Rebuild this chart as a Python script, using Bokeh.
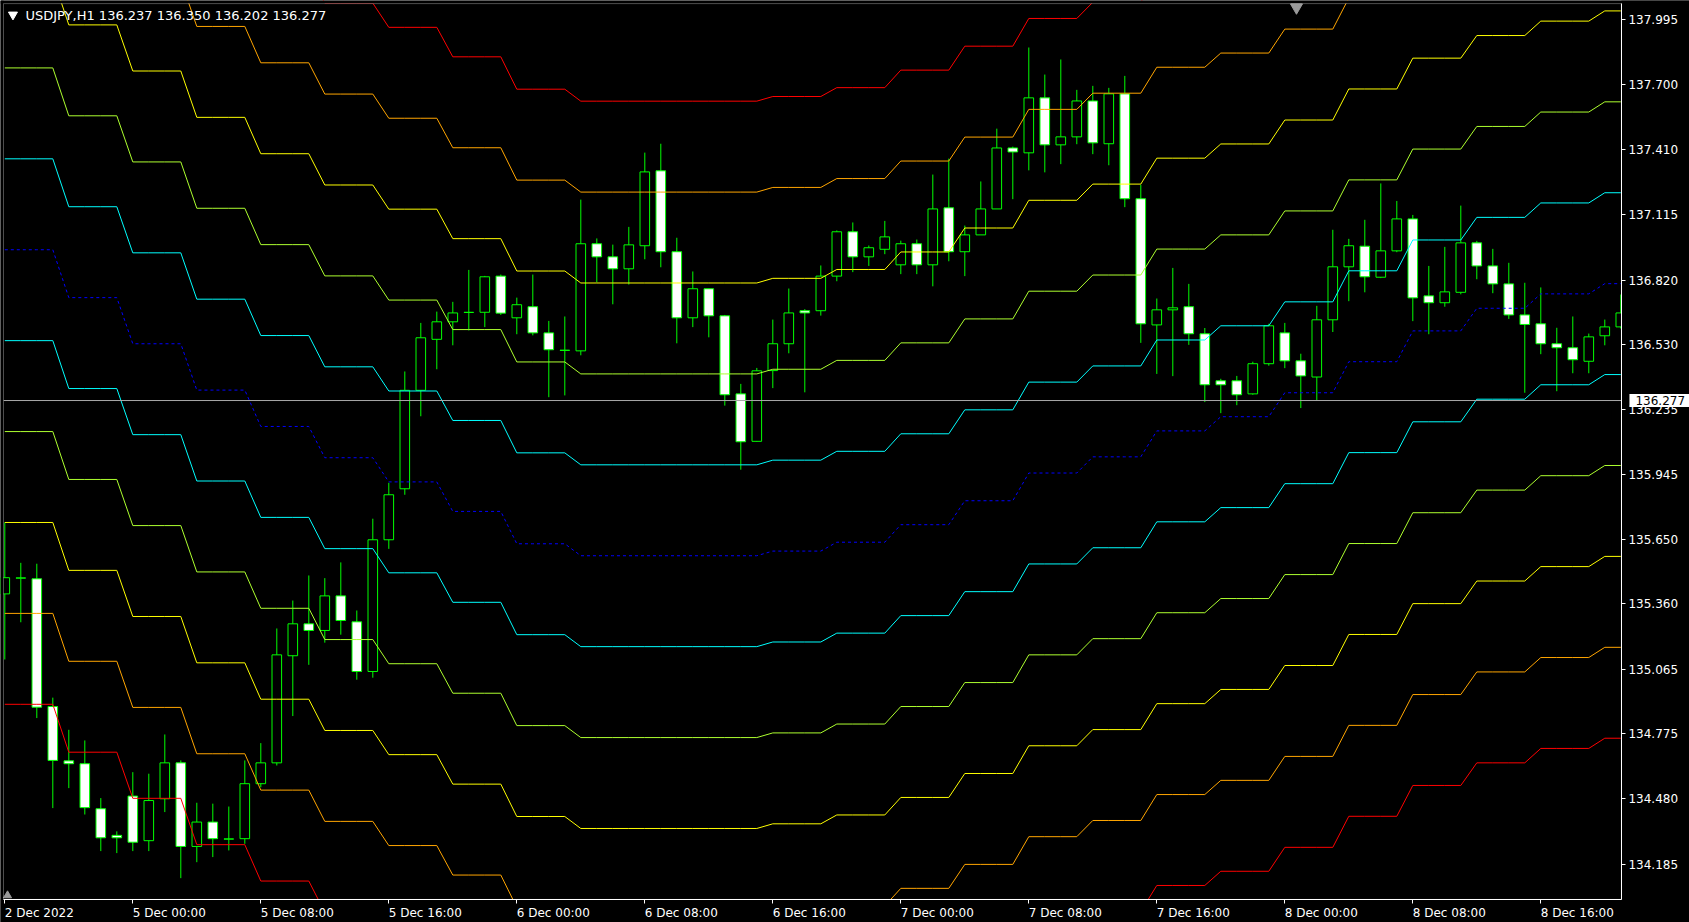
import numpy as np
from bokeh.plotting import figure
from bokeh.models import (ColumnDataSource, FixedTicker, Label, Range1d, BoxAnnotation,
                          NumeralTickFormatter)
from bokeh.embed import file_html
from bokeh.resources import INLINE

# ---------------- data (USDJPY H1, bars from 2 Dec 2022 16:00) ----------------
opens = [135.405, 135.476, 135.473, 134.897, 134.652, 134.639, 134.436, 134.316, 134.493, 134.292,
         134.481, 134.643, 134.266, 134.376, 134.299, 134.301, 134.549, 134.643, 135.126, 135.270,
         135.240, 135.396, 135.279, 135.055, 135.649, 135.879, 136.323, 136.553, 136.632, 136.674,
         136.675, 136.838, 136.650, 136.700, 136.582, 136.503, 136.501, 136.984, 136.925, 136.871,
         136.975, 137.313, 136.948, 136.650, 136.781, 136.659, 136.307, 136.093, 136.412, 136.533,
         136.682, 136.682, 136.838, 137.038, 136.925, 136.959, 136.889, 136.984, 136.889, 137.146,
         136.948, 137.024, 137.141, 137.416, 137.394, 137.642, 137.430, 137.466, 137.628, 137.435,
         137.660, 137.187, 136.618, 136.686, 136.700, 136.578, 136.366, 136.366, 136.307, 136.443,
         136.582, 136.456, 136.383, 136.641, 136.880, 136.973, 136.833, 136.952, 137.096, 136.749,
         136.718, 136.765, 136.988, 136.884, 136.803, 136.663, 136.623, 136.533, 136.515, 136.454,
         136.569, 136.609]
highs = [135.727, 135.545, 135.541, 134.937, 134.792, 134.744, 134.484, 134.334, 134.601, 134.594,
         134.771, 134.654, 134.463, 134.459, 134.446, 134.654, 134.732, 135.249, 135.375, 135.488,
         135.476, 135.547, 135.330, 135.744, 135.906, 136.408, 136.627, 136.678, 136.722, 136.866,
         136.839, 136.845, 136.741, 136.845, 136.636, 136.656, 137.183, 137.008, 136.980, 137.060,
         137.395, 137.435, 137.011, 136.859, 136.781, 136.663, 136.352, 136.424, 136.642, 136.782,
         136.689, 136.886, 137.044, 137.080, 136.976, 137.087, 136.998, 137.003, 137.296, 137.368,
         137.066, 137.265, 137.503, 137.422, 137.869, 137.747, 137.815, 137.678, 137.696, 137.687,
         137.741, 137.250, 136.737, 136.875, 136.803, 136.604, 136.375, 136.388, 136.452, 136.623,
         136.627, 136.488, 136.704, 137.047, 137.006, 137.092, 137.256, 137.177, 137.114, 136.884,
         136.970, 137.156, 136.997, 136.961, 136.898, 136.808, 136.787, 136.605, 136.656, 136.579,
         136.642, 136.755]
lows = [135.109, 135.277, 134.845, 134.439, 134.529, 134.410, 134.245, 134.236, 134.245, 134.245,
        134.421, 134.123, 134.195, 134.218, 134.248, 134.278, 134.533, 134.631, 134.854, 135.085,
        135.185, 135.221, 135.018, 135.027, 135.608, 135.852, 136.206, 136.418, 136.526, 136.593,
        136.608, 136.663, 136.576, 136.571, 136.292, 136.300, 136.481, 136.810, 136.711, 136.800,
        136.914, 136.878, 136.535, 136.608, 136.562, 136.254, 135.965, 136.091, 136.333, 136.490,
        136.314, 136.660, 136.815, 136.856, 136.884, 136.937, 136.847, 136.847, 136.792, 136.905,
        136.838, 137.024, 137.141, 137.185, 137.315, 137.306, 137.343, 137.433, 137.388, 137.338,
        137.149, 136.537, 136.397, 136.387, 136.528, 136.270, 136.220, 136.256, 136.303, 136.434,
        136.423, 136.243, 136.275, 136.586, 136.725, 136.765, 136.829, 136.946, 136.635, 136.576,
        136.700, 136.756, 136.824, 136.761, 136.645, 136.312, 136.486, 136.319, 136.400, 136.400,
        136.526, 136.602]
closes = [135.478, 135.477, 134.894, 134.654, 134.639, 134.441, 134.305, 134.305, 134.285, 134.473,
          134.643, 134.266, 134.376, 134.301, 134.300, 134.549, 134.643, 135.130, 135.270, 135.240,
          135.396, 135.285, 135.055, 135.649, 135.852, 136.323, 136.560, 136.632, 136.672, 136.675,
          136.835, 136.671, 136.709, 136.582, 136.506, 136.504, 136.984, 136.925, 136.871, 136.979,
          137.308, 136.948, 136.650, 136.781, 136.659, 136.303, 136.091, 136.411, 136.533, 136.672,
          136.672, 136.838, 137.038, 136.925, 136.966, 137.015, 136.984, 136.889, 137.141, 136.948,
          137.024, 137.141, 137.416, 137.398, 137.642, 137.430, 137.466, 137.628, 137.439, 137.660,
          137.187, 136.623, 136.686, 136.695, 136.578, 136.348, 136.348, 136.303, 136.443, 136.614,
          136.456, 136.388, 136.641, 136.880, 136.975, 136.835, 136.952, 137.096, 136.740, 136.718,
          136.767, 136.988, 136.884, 136.803, 136.663, 136.620, 136.533, 136.515, 136.461, 136.564,
          136.609, 136.672]

# middle level of the band indicator, one value per 4-hour block
block_centers = [136.957, 136.741, 136.533, 136.324, 136.160, 136.019, 135.910, 135.777,
                 135.631, 135.577, 135.577, 135.577, 135.598, 135.638, 135.717, 135.825,
                 135.950, 136.023, 136.140, 136.204, 136.312, 136.452, 136.591, 136.693,
                 136.758, 136.804]
band_step = 0.410
band_levels = [5, 4, 3, 2, 1, 0, -1, -2, -3, -4, -5]
band_colors = ["#FF0000", "#FFA500", "#FFFF00", "#ADFF2F", "#00FFFF", "#0000FF",
               "#00FFFF", "#ADFF2F", "#FFFF00", "#FFA500", "#FF0000"]

y_tick_values = [134.185, 134.480, 134.775, 135.065, 135.360, 135.650, 135.945,
                 136.235, 136.530, 136.820, 137.115, 137.410, 137.700, 137.995]
y_tick_labels = ["134.185", "134.480", "134.775", "135.065", "135.360", "135.650", "135.945",
                 "136.235", "136.530", "136.820", "137.115", "137.410", "137.700", "137.995"]
x_tick_labels = ["2 Dec 2022", "5 Dec 00:00", "5 Dec 08:00", "5 Dec 16:00", "6 Dec 00:00",
                 "6 Dec 08:00", "6 Dec 16:00", "7 Dec 00:00", "7 Dec 08:00", "7 Dec 16:00",
                 "8 Dec 00:00", "8 Dec 08:00", "8 Dec 16:00"]
bars_per_label = 8
symbol_title = "USDJPY,H1  136.237 136.350 136.202 136.277"
current_price = 136.277
current_price_text = "136.277"

# ---------------- layout ----------------
FONT = "DejaVu Sans"
X_LO, X_HI = -0.269, 105.294          # whole canvas, in bar units
Y_LO, Y_HI = 133.923, 138.081         # whole canvas, in price units
VX0, VX1 = -0.081, 101.04             # chart window
VY0, VY1 = 134.027, 138.067

n = len(opens)
xs = np.arange(n)

p = figure(width=1689, height=922, output_backend="svg", toolbar_location=None,
           x_range=Range1d(X_LO, X_HI), y_range=Range1d(Y_LO, Y_HI),
           y_axis_location="right", background_fill_color="black",
           border_fill_color="black", outline_line_color=None,
           min_border_left=0, min_border_top=0, min_border_right=0, min_border_bottom=0)
p.grid.visible = False

# candles
o = np.array(opens); c = np.array(closes)
src = ColumnDataSource(dict(
    x=xs, h=highs, l=lows,
    top=np.maximum(o, c), bottom=np.minimum(o, c),
    fill=["black" if cc > oo else "white" for oo, cc in zip(o, c)]))
p.segment(x0="x", y0="l", x1="x", y1="h", source=src, line_color="#00FF00", line_width=1)
p.vbar(x="x", width=0.6, top="top", bottom="bottom", source=src,
       fill_color="fill", line_color="#00FF00", line_width=1)

# band lines
center = np.array(block_centers)[xs // 4]
for k, col in zip(band_levels, band_colors):
    p.line(xs, center + k * band_step, line_color=col, line_width=1,
           line_dash="3 3" if k == 0 else "solid")

# current price line
p.line([VX0, VX1], [current_price, current_price], line_color="#A8A8A8", line_width=1)

# mask everything outside the chart window (axis areas)
p.quad(left=[VX1, X_LO, X_LO, X_LO], right=[X_HI, X_HI, VX0, X_HI],
       bottom=[Y_LO, Y_LO, Y_LO, VY1], top=[Y_HI, VY0, Y_HI, Y_HI],
       fill_color="black", line_color=None)

# window border
p.add_layout(BoxAnnotation(left=VX0, right=VX1, bottom=VY0, top=VY1,
                           fill_alpha=0, line_color="white", line_width=1))

# price axis
yax = p.yaxis[0]
yax.fixed_location = VX1
yax.bounds = (VY0, VY1)
yax.ticker = FixedTicker(ticks=y_tick_values)
yax.formatter = NumeralTickFormatter(format="0.000")
yax.major_label_overrides = {v: s for v, s in zip(y_tick_values, y_tick_labels)}
yax.major_label_text_color = "white"
yax.major_label_text_font = FONT
yax.major_label_text_font_size = "12px"
yax.major_tick_in = 0
yax.major_tick_out = 4
yax.major_label_standoff = 3
yax.minor_tick_line_color = None
yax.axis_line_color = "white"
yax.major_tick_line_color = "white"

# time axis
x_ticks = [i * bars_per_label for i in range(len(x_tick_labels))]
xax = p.xaxis[0]
xax.fixed_location = VY0
xax.bounds = (VX0, VX1)
xax.ticker = FixedTicker(ticks=x_ticks)
xax.major_label_overrides = {t: "" for t in x_ticks}
xax.major_tick_in = 0
xax.major_tick_out = 4
xax.minor_tick_line_color = None
xax.axis_line_color = "white"
xax.major_tick_line_color = "white"

for t, lab in zip(x_ticks, x_tick_labels):
    p.add_layout(Label(x=t, y=133.998, text=lab, text_align="left", text_baseline="top",
                       text_color="white", text_font=FONT, text_font_size="12px"))

# header text and markers
p.scatter([0.51], [138.017], marker="inverted_triangle", size=9, color="white")
p.add_layout(Label(x=1.29, y=138.013, text=symbol_title, text_align="left",
                   text_baseline="middle", text_color="white", text_font=FONT,
                   text_font_size="13px"))
p.scatter([80.73], [138.050], marker="inverted_triangle", size=12, color="#9A9A9A")
p.scatter([0.17], [134.045], marker="triangle", size=8, color="#9A9A9A")

# current price tag on the price axis
p.add_layout(Label(x=VX1, y=current_price, text=current_price_text, text_align="left",
                   text_baseline="middle", text_color="black", text_font=FONT,
                   text_font_size="12px", background_fill_color="white", padding=(6, 2),
                   x_offset=8))

open("out.html", "w").write(file_html(p, INLINE))
